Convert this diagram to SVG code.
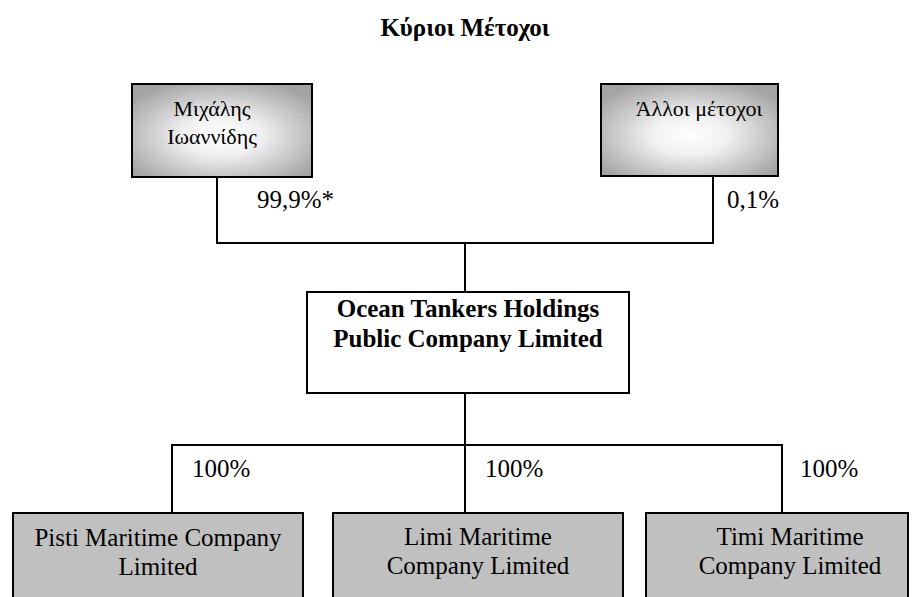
<svg xmlns="http://www.w3.org/2000/svg" width="921" height="597" viewBox="0 0 921 597">
<defs>
<radialGradient id="shade" cx="0.5" cy="0.55" r="0.62">
<stop offset="0" stop-color="#ffffff"/>
<stop offset="0.35" stop-color="#f0f0f0"/>
<stop offset="1" stop-color="#a4a4a4"/>
</radialGradient>
</defs>
<style>
.t{font-family:"Liberation Serif","Times New Roman",serif;fill:#000}
.r{font-size:25px}
.g{font-size:22px}
.b{font-size:25px;font-weight:bold}
.top{fill:url(#shade);stroke:#000;stroke-width:2}
.sub{fill:#c0c0c0;stroke:#000;stroke-width:2}
.main{fill:#fff;stroke:#000;stroke-width:2}
.ln{fill:none;stroke:#000;stroke-width:2}
</style>
<rect width="921" height="597" fill="#fff"/>
<text class="t b" x="465" y="36" text-anchor="middle">Κύριοι Μέτοχοι</text>
<g id="connectors">
<polyline class="ln" points="217,177 217,243 713,243 713,176"/>
<line class="ln" x1="465" y1="243" x2="465" y2="292"/>
<line class="ln" x1="465" y1="393" x2="465" y2="513"/>
<polyline class="ln" points="172,513 172,445 782,445 782,513"/>
<text class="t r" x="257" y="208">99,9%*</text>
<text class="t r" x="727" y="208">0,1%</text>
<text class="t r" x="192" y="477">100%</text>
<text class="t r" x="485" y="477">100%</text>
<text class="t r" x="800" y="477">100%</text>
</g>
<g id="node-ioannidis">
<rect class="top" x="132" y="84" width="180" height="93"/>
<text class="t g" x="212" y="116" text-anchor="middle">Μιχάλης</text>
<text class="t g" x="212" y="144" text-anchor="middle">Ιωαννίδης</text>
</g>
<g id="node-others">
<rect class="top" x="601" y="84" width="177" height="92"/>
<text class="t g" x="699" y="116" text-anchor="middle">Άλλοι μέτοχοι</text>
</g>
<g id="node-ocean">
<rect class="main" x="307" y="292" width="322" height="101"/>
<text class="t b" x="468" y="317" text-anchor="middle">Ocean Tankers Holdings</text>
<text class="t b" x="468" y="347" text-anchor="middle">Public Company Limited</text>
</g>
<g id="node-pisti">
<rect class="sub" x="13" y="513" width="290" height="100"/>
<text class="t r" x="158" y="546" text-anchor="middle">Pisti Maritime Company</text>
<text class="t r" x="158" y="575" text-anchor="middle">Limited</text>
</g>
<g id="node-limi">
<rect class="sub" x="333" y="513" width="290" height="100"/>
<text class="t r" x="478" y="545" text-anchor="middle">Limi Maritime</text>
<text class="t r" x="478" y="574" text-anchor="middle">Company Limited</text>
</g>
<g id="node-timi">
<rect class="sub" x="646" y="513" width="262" height="100"/>
<text class="t r" x="790" y="545" text-anchor="middle">Timi Maritime</text>
<text class="t r" x="790" y="574" text-anchor="middle">Company Limited</text>
</g>
</svg>
